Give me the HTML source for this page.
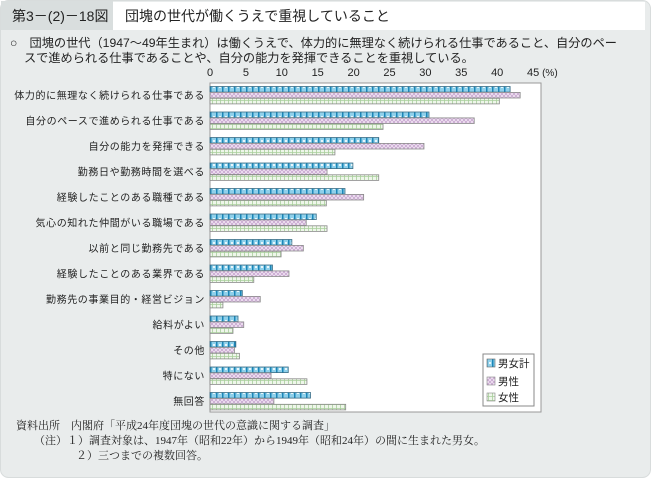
<!DOCTYPE html>
<html><head><meta charset="utf-8">
<style>
body{margin:0;width:652px;height:479px;overflow:hidden;background:#fff;font-family:"Liberation Sans","Noto Sans CJK JP",sans-serif;}
</style></head>
<body>
<svg id="chart" width="652" height="479" xmlns="http://www.w3.org/2000/svg" style="font-family:'Liberation Sans','Noto Sans CJK JP',sans-serif">
<defs>
<pattern id="pBlue" width="6" height="6" patternUnits="userSpaceOnUse">
<rect width="6" height="6" fill="#8fd0ea"/><rect x="0" y="0" width="1.5" height="6" fill="#1b86b8"/><rect x="3" y="2" width="2" height="2" fill="#e8f6fb"/></pattern>
<pattern id="pPink" width="4" height="4" patternUnits="userSpaceOnUse">
<rect width="4" height="4" fill="#f2e6f4"/><path d="M0 0L4 4M4 0L0 4" stroke="#c7a6cf" stroke-width="0.8"/></pattern>
<pattern id="pGreen" width="4" height="4" patternUnits="userSpaceOnUse">
<rect width="4" height="4" fill="#eef6ea"/><path d="M0 0.5H4M0.5 0V4" stroke="#a9cf9c" stroke-width="0.8"/></pattern>
</defs>
<rect x="0.5" y="0.5" width="650" height="477" rx="8" fill="#e9ecec" stroke="#d8dcdc"/>
<rect x="1" y="1" width="112" height="29" fill="#d9dede"/>
<text x="12" y="21" font-size="14" fill="#222">第3－(2)－18図</text>
<rect x="113" y="2" width="532" height="28" fill="#fff"/>
<text x="125" y="21" font-size="14" fill="#222">団塊の世代が働くうえで重視していること</text>
<text x="10" y="47" font-size="12.2" fill="#222">○　団塊の世代（1947～49年生まれ）は働くうえで、体力的に無理なく続けられる仕事であること、自分のペー</text>
<text x="24" y="62" font-size="12.2" fill="#222">スで進められる仕事であることや、自分の能力を発揮できることを重視している。</text>
<rect x="210" y="83" width="331" height="329" fill="#fff" stroke="#999"/>
<g id="ticks"></g><g id="labels"></g><g id="bars"></g>
<g>
<rect x="483" y="354" width="51" height="52" fill="#fff" stroke="#888"/>
<rect x="487" y="359" width="8" height="8" fill="url(#pBlue)" stroke="#666" stroke-width="0.6"/>
<text x="498" y="367" font-size="10.5" fill="#222">男女計</text>
<rect x="487" y="377" width="8" height="8" fill="url(#pPink)" stroke="#888" stroke-width="0.6"/>
<text x="498" y="385" font-size="10.5" fill="#222">男性</text>
<rect x="487" y="393" width="8" height="8" fill="url(#pGreen)" stroke="#888" stroke-width="0.6"/>
<text x="498" y="401" font-size="10.5" fill="#222">女性</text>
</g>
<g font-family="'Liberation Serif','Noto Serif CJK SC',serif" font-size="11" fill="#222">
<text x="16" y="429">資料出所　内閣府「平成24年度団塊の世代の意識に関する調査」</text>
<text x="34" y="444">（注）１）調査対象は、1947年（昭和22年）から1949年（昭和24年）の間に生まれた男女。</text>
<text x="76" y="459">２）三つまでの複数回答。</text>
</g>
</svg>
<script>
const categories=["体力的に無理なく続けられる仕事である","自分のペースで進められる仕事である","自分の能力を発揮できる","勤務日や勤務時間を選べる","経験したことのある職種である","気心の知れた仲間がいる職場である","以前と同じ勤務先である","経験したことのある業界である","勤務先の事業目的・経営ビジョン","給料がよい","その他","特にない","無回答"];
const totalValues=[41.8,30.5,23.5,19.9,18.8,14.8,11.4,8.7,4.5,3.9,3.6,10.9,14.0];
const maleValues=[43.2,36.8,29.8,16.3,21.4,13.4,13.0,11.0,7.0,4.7,3.4,8.5,8.9];
const femaleValues=[40.3,24.1,17.4,23.5,16.2,16.3,9.9,6.1,1.8,3.2,4.1,13.5,18.9];
const tickValues=[0,5,10,15,20,25,30,35,40,45];
const NS="http://www.w3.org/2000/svg";
const x0=210,pxPer=7.18,rowTop=95,rowStep=25.5,barH=5.6;
const xs=v=>x0+v*pxPer;
const yc=i=>rowTop+i*rowStep;
function mk(t,a,p){const e=document.createElementNS(NS,t);for(const k in a)e.setAttribute(k,a[k]);p.appendChild(e);return e;}
const tg=document.getElementById('ticks');
tickValues.forEach((v,i)=>{
 const t=mk('text',{x:xs(v),y:76,'font-size':11,'text-anchor':'middle',fill:'#222'},tg);
 
 
 t.textContent=String(v);
});
const pu=mk('text',{x:xs(45)+9,y:76,'font-size':10,fill:'#222'},tg);


pu.textContent='(%)';
const lg=document.getElementById('labels');
categories.forEach((c,i)=>{
 const t=mk('text',{x:205,y:yc(i)+4,'font-size':10,'text-anchor':'end',fill:'#222','letter-spacing':'0.6'},lg);
 
 
 t.textContent=c;
});
const bg=document.getElementById('bars');
const series=[[totalValues,'url(#pBlue)','#3c6e86','bar-total'],[maleValues,'url(#pPink)','#8a8a8a','bar-male'],[femaleValues,'url(#pGreen)','#8a8a8a','bar-female']];
categories.forEach((c,i)=>{
 series.forEach((s,j)=>{
  const y=yc(i)-8.5+j*(barH+0.3);
  const r=mk('rect',{x:x0,y:y,width:Math.max(0,xs(s[0][i])-x0),height:barH,fill:s[1],stroke:s[2],'stroke-width':0.8},bg);
  
  
 });
});
</script>
</body></html>
